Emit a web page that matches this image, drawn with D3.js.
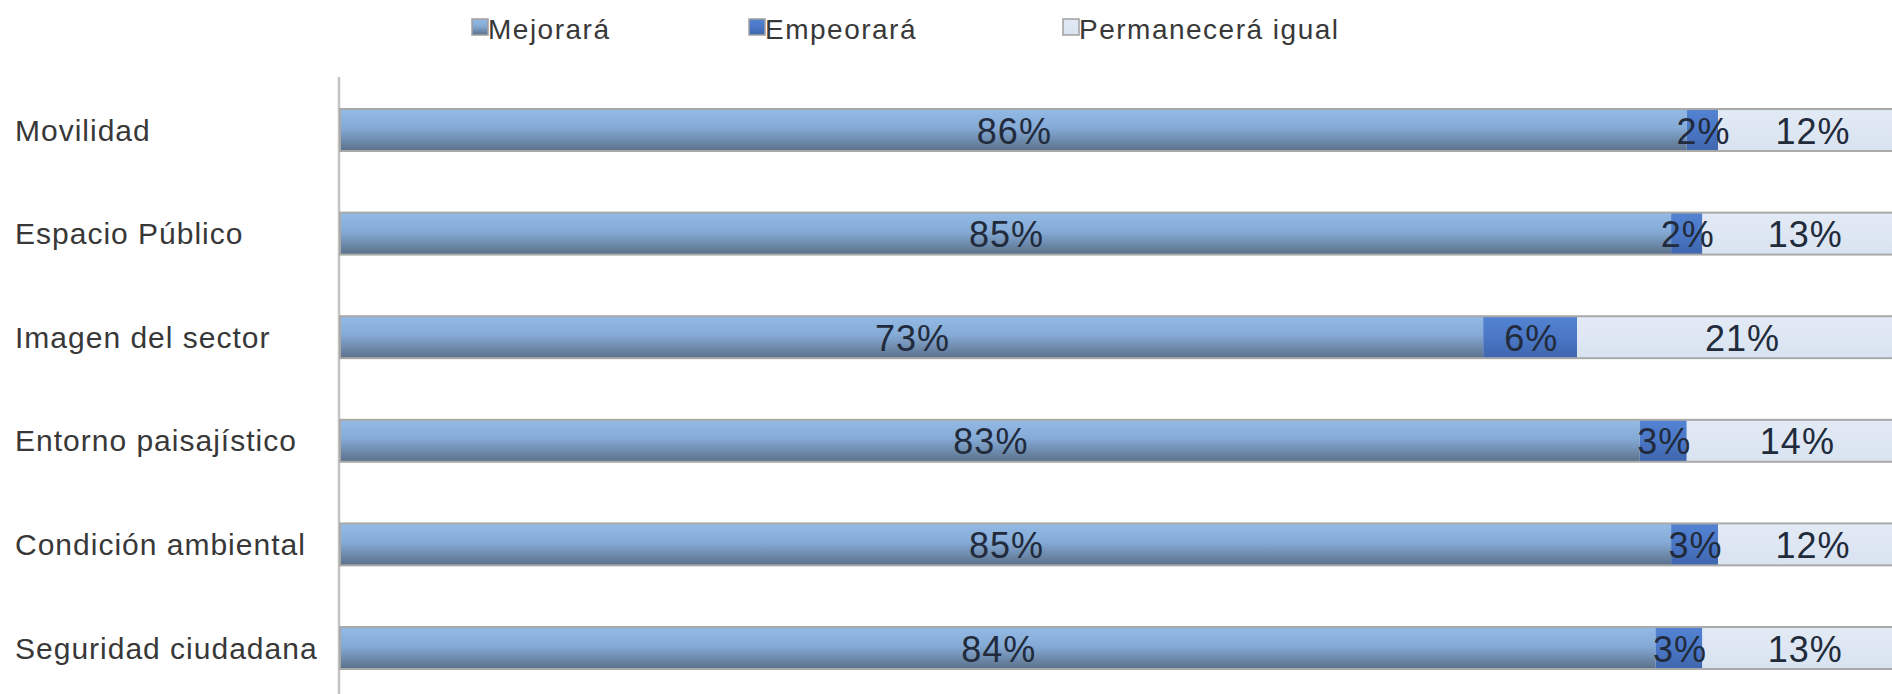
<!DOCTYPE html>
<html><head><meta charset="utf-8">
<script src="https://cdn.jsdelivr.net/npm/d3@7"></script>
<style>body{margin:0;background:#fff;overflow:hidden}svg{display:block}</style>
</head><body>
<svg id="c" width="1892" height="694"></svg>
<script>
const categories = ["Movilidad","Espacio Público","Imagen del sector","Entorno paisajístico","Condición ambiental","Seguridad ciudadana"];
const seriesNames = ["Mejorará","Empeorará","Permanecerá igual"];
const mejorara = [86,85,73,83,85,84];
const empeorara = [2,2,6,3,3,3];
const permanecera = [12,13,21,14,12,13];
const seriesValues = [mejorara, empeorara, permanecera];

const svg = d3.select("#c");
const defs = svg.append("defs");
function grad(id, stops){
  const g = defs.append("linearGradient").attr("id",id).attr("x1",0).attr("y1",0).attr("x2",0).attr("y2",1);
  stops.forEach(s=>g.append("stop").attr("offset",s[0]).attr("stop-color",s[1]));
}
grad("g0",[[0,"#93bbe6"],[0.45,"#85aad6"],[1,"#5a7089"]]);
grad("g1",[[0,"#5383d2"],[0.5,"#4a77c6"],[1,"#3f66ad"]]);
grad("g2",[[0,"#e2eaf5"],[1,"#d9e3f0"]]);
const fills = ["url(#g0)","url(#g1)","url(#g2)"];

const x = d3.scaleLinear().domain([0,100]).range([340,1906]);
const y = d3.scaleBand().domain(categories).range([78.2,699.8]).paddingInner(0.595).paddingOuter(0.2975);

// axis line
svg.append("line").attr("x1",339).attr("x2",339).attr("y1",77).attr("y2",694)
  .attr("stroke","#c4c4c4").attr("stroke-width",2.5);

const stacked = categories.map((c,i)=>{
  let acc=0;
  return seriesValues.map((s,k)=>{const o={cat:c,k,v:s[i],x0:acc,x1:acc+s[i]}; acc+=s[i]; return o;});
});

const rows = svg.append("g").selectAll("g").data(stacked).join("g");
rows.selectAll("rect.seg").data(d=>d).join("rect").attr("class","seg")
  .attr("x",d=>x(d.x0)).attr("width",d=>x(d.x1)-x(d.x0))
  .attr("y",d=>y(d.cat)).attr("height",y.bandwidth())
  .attr("fill",d=>fills[d.k]);
rows.append("rect")
  .attr("x",x(0)).attr("width",x(100)-x(0))
  .attr("y",d=>y(d[0].cat)).attr("height",y.bandwidth())
  .attr("fill","none").attr("stroke","#a9a9a9").attr("stroke-width",2);
rows.selectAll("text.val").data(d=>d).join("text").attr("class","val")
  .attr("x",d=>x((d.x0+d.x1)/2)+1).attr("y",d=>y(d.cat)+y.bandwidth()/2+1)
  .attr("text-anchor","middle").attr("dominant-baseline","central")
  .attr("font-family","Liberation Sans, Arial, sans-serif").attr("font-size",36)
  .attr("letter-spacing","1px")
  .attr("fill","#222b3b").text(d=>d.v+"%");

// category labels
svg.append("g").selectAll("text").data(categories).join("text")
  .attr("x",15).attr("y",d=>y(d)+y.bandwidth()/2)
  .attr("dominant-baseline","central")
  .attr("font-family","Liberation Sans, Arial, sans-serif").attr("font-size",30)
  .attr("letter-spacing","1px")
  .attr("fill","#383838").text(d=>d);

// legend
const legX = [471,748,1062];
const leg = svg.append("g").selectAll("g").data(seriesNames).join("g")
  .attr("transform",(d,i)=>`translate(${legX[i]},0)`);
leg.append("rect").attr("x",1).attr("y",19).attr("width",16).attr("height",16)
  .attr("fill",(d,i)=>fills[i]).attr("stroke","#a0a0a0").attr("stroke-width",1.5);
leg.append("text").attr("x",17).attr("y",29).attr("dominant-baseline","central")
  .attr("font-family","Liberation Sans, Arial, sans-serif").attr("font-size",28)
  .attr("letter-spacing","1.5px")
  .attr("fill","#383838").text(d=>d);
</script>
</body></html>
